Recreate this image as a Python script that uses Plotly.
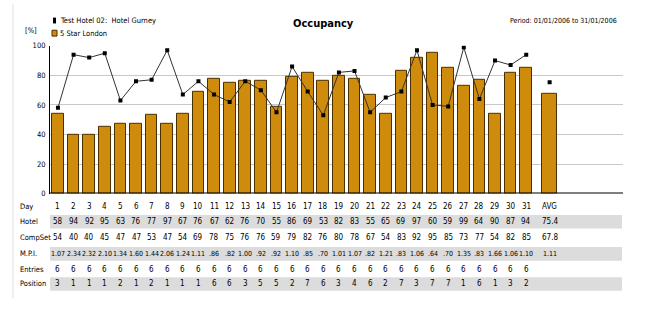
import plotly.graph_objects as go

days = list(range(1, 32))
hotel = [58, 94, 92, 95, 63, 76, 77, 97, 67, 76, 67, 62, 76, 70, 55, 86, 69, 53, 82, 83, 55, 65, 69, 97, 60, 59, 99, 64, 90, 87, 94]
compset = [54, 40, 40, 45, 47, 47, 53, 47, 54, 69, 78, 75, 76, 76, 59, 79, 82, 76, 80, 78, 67, 54, 83, 92, 95, 85, 73, 77, 54, 82, 85]
mpi = ["1.07", "2.34", "2.32", "2.10", "1.34", "1.60", "1.44", "2.06", "1.24", "1.11", ".86", ".82", "1.00", ".92", ".92", "1.10", ".85", ".70", "1.01", "1.07", ".82", "1.21", ".83", "1.06", ".64", ".70", "1.35", ".83", "1.66", "1.06", "1.10"]
entries = [6] * 31
position = [3, 1, 1, 1, 2, 1, 2, 1, 1, 1, 6, 6, 3, 5, 5, 2, 7, 6, 3, 4, 6, 2, 7, 3, 7, 7, 1, 6, 1, 3, 2]
hotel_avg = 75.4
compset_avg = 67.8
mpi_avg = "1.11"
avg_label = "AVG"
avg_x = 32.5
hotel_name = "Test Hotel 02:\u00a0 Hotel Gurney"
comp_name = "5 Star London"
title = "Occupancy"
period = "Period: 01/01/2006 to 31/01/2006"
yticks = [0, 20, 40, 60, 80, 100]

W, H = 652, 323
FONT = "'Liberation Sans Narrow', 'DejaVu Sans Condensed', 'Arial Narrow', 'Liberation Sans', Arial, sans-serif"
BAR = "#CF8B0C"
BAR_EDGE = "#4a3000"


def py(p):
    return 1 - p / H


def px(p):
    return p / W


fig = go.Figure()
fig.add_trace(go.Bar(x=days, y=compset, width=0.75, marker=dict(color=BAR, line=dict(color=BAR_EDGE, width=1)),
                     name=comp_name, showlegend=False))
fig.add_trace(go.Bar(x=[avg_x], y=[compset_avg], width=0.95, marker=dict(color=BAR, line=dict(color=BAR_EDGE, width=1)),
                     showlegend=False))
fig.add_trace(go.Scatter(x=days, y=hotel, mode="lines+markers", line=dict(color="#333333", width=1),
                         marker=dict(symbol="square", size=4, color="black"), name=hotel_name, showlegend=False))
fig.add_trace(go.Scatter(x=[avg_x], y=[hotel_avg], mode="markers",
                         marker=dict(symbol="square", size=4, color="black"), showlegend=False))

x0p, x1p = 50, 623
y_top, y_bot = 43, 195
fig.update_layout(
    width=W, height=H, margin=dict(l=0, r=0, t=0, b=0),
    paper_bgcolor="white", plot_bgcolor="white",
    barmode="overlay", bargap=0,
    font=dict(family=FONT, size=8, color="black"),
    xaxis=dict(domain=[px(x0p), px(x1p)], range=[0.49, 37.2], showticklabels=False, showgrid=False,
               zeroline=False, ticks="", showline=False, fixedrange=True),
    yaxis=dict(domain=[py(y_bot), py(y_top)], range=[0, 100], tickvals=yticks, ticks="",
               showgrid=True, gridcolor="#c8c8c8", gridwidth=1, zeroline=False,
               showline=True, linecolor="black", linewidth=1,
               tickfont=dict(family=FONT, size=7.5), ticklabelstandoff=2),
)

shapes = []
# baseline
shapes.append(dict(type="line", xref="paper", yref="y", x0=px(x0p), x1=px(x1p), y0=0, y1=0,
                   line=dict(color="black", width=2)))
# frame line at left
shapes.append(dict(type="line", xref="paper", yref="paper", x0=px(13), x1=px(13), y0=py(0), y1=py(303),
                   line=dict(color="#e0e0e0", width=1)))

# table rows
rows = [
    ("Day", [str(d) for d in days], avg_label, 208, False, 8),
    ("Hotel", [str(v) for v in hotel], f"{hotel_avg}", 224, True, 8),
    ("CompSet", [str(v) for v in compset], f"{compset_avg}", 240, False, 8),
    ("M.P.I.", mpi, mpi_avg, 257, True, 7),
    ("Entries", [str(v) for v in entries], "", 273, False, 8),
    ("Position", [str(v) for v in position], "", 288, True, 8),
]
ann = []
for label, vals, avg, yc, shaded, fs in rows:
    if shaded:
        shapes.append(dict(type="rect", xref="paper", yref="paper", x0=px(50), x1=px(622),
                           y0=py(yc + 7), y1=py(yc - 7), fillcolor="#dcdcdc", line=dict(width=0), layer="below"))
    ann.append(dict(x=px(18), y=py(yc), xref="paper", yref="paper", text=label, showarrow=False,
                    xanchor="left", yanchor="middle", font=dict(family=FONT, size=7.5)))
    for d, v in zip(days, vals):
        ann.append(dict(x=d, y=py(yc), xref="x", yref="paper", text=v, showarrow=False,
                        xanchor="center", yanchor="middle", font=dict(family=FONT, size=fs)))
    if avg:
        ann.append(dict(x=avg_x, y=py(yc), xref="x", yref="paper", text=avg, showarrow=False,
                        xanchor="center", yanchor="middle", font=dict(family=FONT, size=fs)))

# title and period
ann.append(dict(x=px(323), y=py(20), xref="paper", yref="paper", text=f"<b>{title}</b>", showarrow=False,
                xanchor="center", yanchor="middle", font=dict(family=FONT, size=11)))
ann.append(dict(x=px(619), y=py(17), xref="paper", yref="paper", text=period, showarrow=False,
                xanchor="right", yanchor="middle", font=dict(family=FONT, size=7)))
ann.append(dict(x=px(23), y=py(27), xref="paper", yref="paper", text="[%]", showarrow=False,
                xanchor="left", yanchor="middle", font=dict(family=FONT, size=7.5)))
# legend
ann.append(dict(x=px(58), y=py(17), xref="paper", yref="paper", text=hotel_name, showarrow=False,
                xanchor="left", yanchor="middle", font=dict(family=FONT, size=7.5)))
ann.append(dict(x=px(58), y=py(30), xref="paper", yref="paper", text=comp_name, showarrow=False,
                xanchor="left", yanchor="middle", font=dict(family=FONT, size=7.5)))
shapes.append(dict(type="rect", xref="paper", yref="paper", x0=px(53), x1=px(56), y0=py(20), y1=py(14),
                   fillcolor="black", line=dict(width=0)))
shapes.append(dict(type="rect", xref="paper", yref="paper", x0=px(52), x1=px(57), y0=py(33), y1=py(27),
                   fillcolor=BAR, line=dict(color=BAR_EDGE, width=1)))

fig.update_layout(shapes=shapes, annotations=ann)
fig.write_html("out.html")
